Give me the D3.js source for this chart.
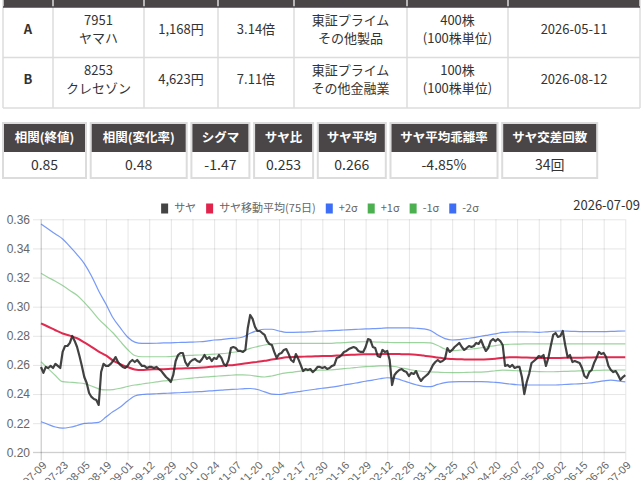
<!DOCTYPE html>
<html>
<head>
<meta charset="utf-8">
<script src="https://cdn.jsdelivr.net/npm/d3@7"></script>
<style>
html, body { margin: 0; padding: 0; background: #fff; overflow: hidden; }
svg { display: block; font-family: "Noto Sans CJK JP", "Noto Sans", sans-serif; }
</style>
</head>
<body>
<div id="chart"></div>
<script>
// pair info table
var pairRows = [
    { label: "A", code: "7951", name: "ヤマハ", price: "1,168円", ratio: "3.14倍", market: "東証プライム", sector: "その他製品", shares: "400株", unit: "(100株単位)", date: "2026-05-11" },
    { label: "B", code: "8253", name: "クレセゾン", price: "4,623円", ratio: "7.11倍", market: "東証プライム", sector: "その他金融業", shares: "100株", unit: "(100株単位)", date: "2026-08-12" }
];

// stats boxes
var statLabels = ["相関(終値)", "相関(変化率)", "シグマ", "サヤ比", "サヤ平均", "サヤ平均乖離率", "サヤ交差回数"];
var statValues = ["0.85", "0.48", "-1.47", "0.253", "0.266", "-4.85%", "34回"];

var chartDate = "2026-07-09";
var legendLabels = ["サヤ", "サヤ移動平均(75日)", "+2σ", "+1σ", "-1σ", "-2σ"];

var tickDates = ["2025-07-09", "2025-07-23", "2025-08-05", "2025-08-19", "2025-09-01", "2025-09-12", "2025-09-29",
    "2025-10-10", "2025-10-24", "2025-11-07", "2025-11-20", "2025-12-04", "2025-12-17", "2025-12-30",
    "2026-01-16", "2026-01-29", "2026-02-12", "2026-02-26", "2026-03-11", "2026-03-25", "2026-04-07",
    "2026-04-20", "2026-05-07", "2026-05-20", "2026-06-02", "2026-06-15", "2026-06-26", "2026-07-09"];

// daily spread (saya)
var saya = [
    0.2586, 0.2545, 0.2586, 0.2579, 0.2593, 0.2579, 0.2607, 0.2593, 0.2579, 0.2689,
    0.2730, 0.2730, 0.2751, 0.2799, 0.2765, 0.2723, 0.2661, 0.2593, 0.2517, 0.2476,
    0.2407, 0.2380, 0.2366, 0.2359, 0.2325, 0.2551, 0.2607, 0.2593, 0.2593, 0.2607,
    0.2627, 0.2654, 0.2620, 0.2600, 0.2586, 0.2579, 0.2593, 0.2620, 0.2634, 0.2620,
    0.2634, 0.2613, 0.2593, 0.2593, 0.2579, 0.2586, 0.2586, 0.2579, 0.2586, 0.2572,
    0.2559, 0.2538, 0.2517, 0.2503, 0.2483, 0.2531, 0.2627, 0.2668, 0.2682, 0.2682,
    0.2620, 0.2593, 0.2620, 0.2634, 0.2641, 0.2627, 0.2620, 0.2641, 0.2668, 0.2641,
    0.2654, 0.2627, 0.2648, 0.2641, 0.2668, 0.2648, 0.2607, 0.2593, 0.2634, 0.2716,
    0.2723, 0.2716, 0.2696, 0.2696, 0.2689, 0.2703, 0.2854, 0.2943, 0.2916, 0.2861,
    0.2833, 0.2833, 0.2819, 0.2806, 0.2764, 0.2744, 0.2737, 0.2689, 0.2648, 0.2675,
    0.2682, 0.2703, 0.2709, 0.2675, 0.2634, 0.2620, 0.2675, 0.2641, 0.2600, 0.2558,
    0.2572, 0.2565, 0.2572, 0.2551, 0.2565, 0.2586, 0.2586, 0.2579, 0.2586, 0.2572,
    0.2579, 0.2593, 0.2600, 0.2648, 0.2654, 0.2668, 0.2689, 0.2696, 0.2709, 0.2716,
    0.2723, 0.2716, 0.2696, 0.2689, 0.2689, 0.2723, 0.2778, 0.2771, 0.2723, 0.2716,
    0.2661, 0.2654, 0.2703, 0.2689, 0.2696, 0.2634, 0.2462, 0.2531, 0.2551, 0.2565,
    0.2572, 0.2558, 0.2551, 0.2524, 0.2545, 0.2538, 0.2558, 0.2517, 0.2490, 0.2510,
    0.2524, 0.2538, 0.2565, 0.2600, 0.2620, 0.2634, 0.2620, 0.2627, 0.2641, 0.2716,
    0.2689, 0.2703, 0.2723, 0.2737, 0.2751, 0.2723, 0.2703, 0.2716, 0.2730, 0.2723,
    0.2730, 0.2751, 0.2744, 0.2771, 0.2730, 0.2696, 0.2716, 0.2764, 0.2778, 0.2764,
    0.2778, 0.2764, 0.2737, 0.2593, 0.2600, 0.2586, 0.2600, 0.2579, 0.2586, 0.2586,
    0.2517, 0.2400, 0.2483, 0.2538, 0.2613, 0.2627, 0.2641, 0.2661, 0.2654, 0.2668,
    0.2593, 0.2648, 0.2730, 0.2806, 0.2819, 0.2792, 0.2799, 0.2833, 0.2737, 0.2654,
    0.2668, 0.2620, 0.2627, 0.2620, 0.2613, 0.2579, 0.2524, 0.2510, 0.2551, 0.2565,
    0.2613, 0.2648, 0.2689, 0.2675, 0.2682, 0.2654, 0.2593, 0.2565, 0.2551, 0.2558,
    0.2531, 0.2497, 0.2517, 0.2530
];

// bands, read every 3rd trading day
var bandStep = 3;
var maBand = [
    0.2886, 0.2862, 0.2838, 0.2816, 0.2801, 0.2783, 0.2755, 0.2724, 0.2692, 0.2665,
    0.2630, 0.2606, 0.2586, 0.2569, 0.2565, 0.2569, 0.2570, 0.2571, 0.2573, 0.2575,
    0.2577, 0.2579, 0.2581, 0.2584, 0.2589, 0.2593, 0.2597, 0.2602, 0.2608, 0.2615,
    0.2621, 0.2628, 0.2637, 0.2644, 0.2652, 0.2655, 0.2656, 0.2658, 0.2659, 0.2661,
    0.2661, 0.2664, 0.2667, 0.2670, 0.2672, 0.2673, 0.2674, 0.2674, 0.2675, 0.2675,
    0.2674, 0.2673, 0.2670, 0.2664, 0.2658, 0.2651, 0.2644, 0.2641, 0.2639, 0.2637,
    0.2637, 0.2637, 0.2639, 0.2643, 0.2650, 0.2652, 0.2652, 0.2651, 0.2650, 0.2648,
    0.2648, 0.2648, 0.2648, 0.2649, 0.2650, 0.2650, 0.2651, 0.2652, 0.2652, 0.2652,
    0.2652, 0.2652
];
var plus2 = [
    0.3568, 0.3533, 0.3499, 0.3465, 0.3413, 0.3358, 0.3296, 0.3211, 0.3108, 0.3018,
    0.2922, 0.2854, 0.2792, 0.2757, 0.2748, 0.2748, 0.2749, 0.2751, 0.2752, 0.2754,
    0.2755, 0.2757, 0.2759, 0.2764, 0.2771, 0.2774, 0.2781, 0.2783, 0.2792, 0.2817,
    0.2836, 0.2845, 0.2845, 0.2833, 0.2824, 0.2824, 0.2825, 0.2827, 0.2830, 0.2833,
    0.2835, 0.2837, 0.2840, 0.2843, 0.2845, 0.2847, 0.2849, 0.2851, 0.2854, 0.2855,
    0.2855, 0.2854, 0.2852, 0.2848, 0.2836, 0.2805, 0.2781, 0.2771, 0.2774, 0.2781,
    0.2788, 0.2797, 0.2805, 0.2813, 0.2823, 0.2826, 0.2827, 0.2827, 0.2826, 0.2824,
    0.2827, 0.2831, 0.2833, 0.2832, 0.2830, 0.2829, 0.2828, 0.2828, 0.2829, 0.2830,
    0.2832, 0.2833
];
var plus1 = [
    0.3229, 0.3201, 0.3174, 0.3145, 0.3111, 0.3078, 0.3029, 0.2974, 0.2915, 0.2867,
    0.2819, 0.2761, 0.2706, 0.2665, 0.2656, 0.2656, 0.2656, 0.2656, 0.2658, 0.2661,
    0.2664, 0.2666, 0.2668, 0.2671, 0.2674, 0.2677, 0.2682, 0.2689, 0.2697, 0.2714,
    0.2726, 0.2737, 0.2744, 0.2748, 0.2748, 0.2748, 0.2748, 0.2748, 0.2748, 0.2748,
    0.2748, 0.2751, 0.2753, 0.2756, 0.2758, 0.2759, 0.2758, 0.2756, 0.2755, 0.2753,
    0.2753, 0.2753, 0.2753, 0.2753, 0.2751, 0.2733, 0.2709, 0.2698, 0.2701, 0.2706,
    0.2711, 0.2718, 0.2725, 0.2733, 0.2740, 0.2742, 0.2743, 0.2744, 0.2744, 0.2744,
    0.2744, 0.2744, 0.2744, 0.2744, 0.2744, 0.2744, 0.2744, 0.2744, 0.2744, 0.2744,
    0.2744, 0.2744
];
var minus1 = [
    0.2622, 0.2574, 0.2527, 0.2485, 0.2481, 0.2477, 0.2472, 0.2455, 0.2436, 0.2428,
    0.2431, 0.2440, 0.2452, 0.2462, 0.2469, 0.2476, 0.2483, 0.2490, 0.2494, 0.2500,
    0.2505, 0.2510, 0.2515, 0.2518, 0.2522, 0.2525, 0.2528, 0.2531, 0.2531, 0.2529,
    0.2521, 0.2517, 0.2524, 0.2536, 0.2545, 0.2551, 0.2558, 0.2561, 0.2563, 0.2564,
    0.2565, 0.2570, 0.2575, 0.2579, 0.2584, 0.2588, 0.2590, 0.2593, 0.2594, 0.2589,
    0.2579, 0.2569, 0.2560, 0.2555, 0.2552, 0.2550, 0.2548, 0.2547, 0.2547, 0.2549,
    0.2550, 0.2551, 0.2554, 0.2560, 0.2564, 0.2563, 0.2560, 0.2558, 0.2556, 0.2554,
    0.2553, 0.2553, 0.2555, 0.2556, 0.2558, 0.2559, 0.2561, 0.2562, 0.2564, 0.2564,
    0.2565, 0.2565
];
var minus2 = [
    0.2210, 0.2191, 0.2174, 0.2166, 0.2172, 0.2184, 0.2198, 0.2201, 0.2205, 0.2242,
    0.2280, 0.2311, 0.2352, 0.2387, 0.2397, 0.2400, 0.2402, 0.2404, 0.2407, 0.2409,
    0.2412, 0.2414, 0.2416, 0.2420, 0.2424, 0.2427, 0.2431, 0.2433, 0.2436, 0.2438,
    0.2431, 0.2415, 0.2400, 0.2397, 0.2404, 0.2412, 0.2419, 0.2426, 0.2433, 0.2440,
    0.2446, 0.2453, 0.2462, 0.2470, 0.2479, 0.2488, 0.2496, 0.2505, 0.2512, 0.2510,
    0.2495, 0.2479, 0.2464, 0.2453, 0.2451, 0.2466, 0.2479, 0.2484, 0.2485, 0.2485,
    0.2485, 0.2485, 0.2484, 0.2480, 0.2475, 0.2469, 0.2464, 0.2462, 0.2462, 0.2462,
    0.2462, 0.2462, 0.2464, 0.2467, 0.2469, 0.2472, 0.2476, 0.2483, 0.2490, 0.2495,
    0.2490, 0.2483
];

var W = 643, H = 480;
var headFill = "#4a4547", borderCol = "#dcdcdc", textCol = "#333";

var svg = d3.select("#chart").append("svg")
    .attr("width", W)
    .attr("height", H);

// ---------- pair table ----------
var colEdges = [3, 53, 144, 218, 294, 407, 508, 640];
var rowTop = 7, rowH = 50.5;

svg.append("rect")
    .attr("x", colEdges[0]).attr("y", -12)
    .attr("width", colEdges[colEdges.length - 1] - colEdges[0]).attr("height", rowTop + 12)
    .attr("fill", headFill);

var cellLines = pairRows.map(function (r) {
    return [[r.label], [r.code, r.name], [r.price], [r.ratio], [r.market, r.sector], [r.shares, r.unit], [r.date]];
});

cellLines.forEach(function (cells, ri) {
    var rTop = rowTop + ri * rowH;
    cells.forEach(function (lines, ci) {
        var cx = (colEdges[ci] + colEdges[ci + 1]) / 2;
        lines.forEach(function (t, li) {
            var cy = lines.length === 1 ? rTop + 22 : rTop + 13 + li * 18;
            svg.append("text")
                .attr("x", cx).attr("y", cy).attr("dy", "0.35em")
                .attr("text-anchor", "middle")
                .style("font-size", "13px")
                .style("font-weight", ci === 0 ? "bold" : "normal")
                .style("fill", textCol)
                .text(t);
        });
    });
});

// table grid
var tableBottom = rowTop + pairRows.length * rowH;
colEdges.forEach(function (cx) {
    svg.append("line")
        .attr("x1", cx).attr("x2", cx).attr("y1", -12).attr("y2", tableBottom)
        .style("stroke", borderCol).style("stroke-width", 1.5);
});
d3.range(pairRows.length + 1).forEach(function (i) {
    var yy = rowTop + i * rowH;
    svg.append("line")
        .attr("x1", colEdges[0]).attr("x2", colEdges[colEdges.length - 1])
        .attr("y1", yy).attr("y2", yy)
        .style("stroke", i === 0 ? headFill : borderCol).style("stroke-width", 1.5);
});

// ---------- stats boxes ----------
var statTop = 123, statHeadH = 29, statValH = 26;
var statBoxW = [83, 96, 58, 59, 68, 107, 95];   // box widths (layout)
var bx = 3;
statLabels.forEach(function (lab, i) {
    var w = statBoxW[i];
    var g = svg.append("g");
    g.append("rect")
        .attr("x", bx).attr("y", statTop)
        .attr("width", w).attr("height", statHeadH + statValH)
        .attr("fill", "#fff").style("stroke", borderCol).style("stroke-width", 2);
    g.append("rect")
        .attr("x", bx + 1).attr("y", statTop + 1)
        .attr("width", w - 2).attr("height", statHeadH - 1)
        .attr("fill", headFill);
    g.append("text")
        .attr("x", bx + w / 2).attr("y", statTop + statHeadH / 2).attr("dy", "0.35em")
        .attr("text-anchor", "middle")
        .style("font-size", "12.5px").style("font-weight", "bold")
        .style("fill", "#fff")
        .text(lab);
    g.append("text")
        .attr("x", bx + w / 2).attr("y", statTop + statHeadH + statValH / 2).attr("dy", "0.35em")
        .attr("text-anchor", "middle")
        .style("font-size", "14px")
        .style("fill", textCol)
        .text(statValues[i]);
    bx += w + 4.7;
});

// ---------- chart ----------
var plotL = 41, plotR = 625.3, plotT = 219.3, plotB = 452.3;

var x = d3.scaleLinear().domain([0, saya.length - 1]).range([plotL, plotR]);
var y = d3.scaleLinear().domain([0.20, 0.36]).range([plotB, plotT]);

var tickStep = (saya.length - 1) / (tickDates.length - 1);
var tickIdx = tickDates.map(function (d, i) { return i * tickStep; });

// horizontal grid + y labels
var yAxis = svg.append("g")
    .attr("transform", "translate(" + (plotL - 8) + ",0)")
    .call(d3.axisLeft(y)
        .tickValues(d3.range(0, 9).map(function (i) { return 0.20 + i * 0.02; }))
        .tickFormat(d3.format(".2f"))
        .tickSize(-(plotR - plotL + 8))
        .tickPadding(3));
yAxis.select(".domain").remove();
yAxis.selectAll(".tick line").style("stroke", "rgba(0,0,0,0.1)");
yAxis.selectAll(".tick text")
    .style("font-family", "'Liberation Sans', Arial, sans-serif")
    .style("font-size", "12px").style("fill", "#666");

// vertical grid + x labels
var xAxis = svg.append("g")
    .attr("transform", "translate(0," + (plotB + 8) + ")")
    .call(d3.axisBottom(x)
        .tickValues(tickIdx)
        .tickFormat(function (d, i) { return tickDates[i]; })
        .tickSize(-(plotB + 8 - plotT)));
xAxis.select(".domain").remove();
xAxis.selectAll(".tick line").style("stroke", "rgba(0,0,0,0.1)");
xAxis.selectAll(".tick text")
    .attr("text-anchor", "end")
    .attr("y", 0).attr("dy", "0.35em")
    .attr("transform", "translate(3,3) rotate(-45)")
    .style("font-family", "'Liberation Sans', Arial, sans-serif")
    .style("font-size", "11px").style("fill", "#666");

// axis borders
svg.append("line")
    .attr("x1", plotL).attr("x2", plotL).attr("y1", plotT).attr("y2", plotB + 8)
    .style("stroke", "rgba(0,0,0,0.16)");
svg.append("line")
    .attr("x1", plotL - 8).attr("x2", plotR).attr("y1", plotB).attr("y2", plotB)
    .style("stroke", "rgba(0,0,0,0.16)");

var bandLine = d3.line()
    .x(function (d, i) { return x(i * bandStep); })
    .y(function (d) { return y(d); })
    .curve(d3.curveMonotoneX);

var series = [
    { data: minus2, color: "rgba(61,110,245,0.7)", width: 1.2 },
    { data: minus1, color: "rgba(76,175,80,0.55)", width: 1.2 },
    { data: plus1, color: "rgba(76,175,80,0.55)", width: 1.2 },
    { data: plus2, color: "rgba(61,110,245,0.7)", width: 1.2 },
    { data: maBand, color: "rgba(222,24,64,0.92)", width: 2 }
];
series.forEach(function (s) {
    svg.append("path")
        .datum(s.data)
        .attr("d", bandLine)
        .style("fill", "none")
        .style("stroke", s.color)
        .style("stroke-width", s.width);
});

var sayaLine = d3.line()
    .x(function (d, i) { return x(i); })
    .y(function (d) { return y(d); });

svg.append("path")
    .datum(saya)
    .attr("d", sayaLine)
    .style("fill", "none")
    .style("stroke", "rgba(40,40,40,0.88)")
    .style("stroke-width", 2.2)
    .style("stroke-linejoin", "round");

// legend
var legendColors = ["#444", "#e0244c", "#3d6ef5", "#4caf50", "#4caf50", "#3d6ef5"];
var legend = svg.append("g");
var lx = 0, legendY = 208.5;
legendLabels.forEach(function (lab, i) {
    var item = legend.append("g").attr("transform", "translate(" + lx + ",0)");
    item.append("rect")
        .attr("x", 0).attr("y", legendY - 5)
        .attr("width", 7).attr("height", 10)
        .attr("fill", legendColors[i]);
    var t = item.append("text")
        .attr("x", 13).attr("y", legendY).attr("dy", "0.35em")
        .style("font-size", "11px").style("fill", "#666")
        .text(lab);
    lx += 13 + t.node().getComputedTextLength() + 10;
});
var lw = lx - 10;
legend.attr("transform", "translate(" + (320 - lw / 2) + ",0)");

svg.append("text")
    .attr("x", 640).attr("y", 205).attr("dy", "0.35em")
    .attr("text-anchor", "end")
    .style("font-size", "13px").style("fill", textCol)
    .text(chartDate);
</script>
</body>
</html>
